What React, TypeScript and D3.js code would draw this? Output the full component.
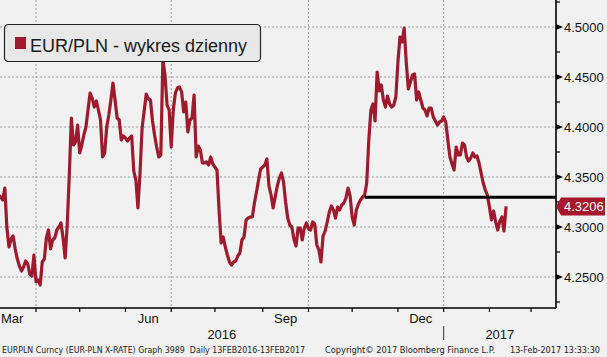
import React from "react";
import * as d3 from "d3";

const W = 607;
const H = 357;

const seriesName = "EUR/PLN - wykres dzienny";
const firstDay = new Date(2016, 1, 15);
const axisEndDay = new Date(2017, 3, 1);

// EUR/PLN daily closes, business days from 15 Feb 2016 to 13 Feb 2017
const values = [
  4.405, 4.412, 4.398, 4.390, 4.385, 4.372, 4.380, 4.368, 4.360, 4.355, 4.348, 4.352, 4.340, 4.338, 4.330, 4.325, 4.332,
  4.330, 4.327, 4.339, 4.299, 4.280, 4.288, 4.291, 4.278, 4.268, 4.261, 4.256, 4.260, 4.266, 4.263, 4.253, 4.251, 4.272,
  4.245, 4.247, 4.242, 4.265, 4.268, 4.289, 4.297, 4.278, 4.287, 4.289, 4.297, 4.300, 4.304, 4.289, 4.269, 4.302,
  4.352, 4.409, 4.382, 4.385, 4.402, 4.374, 4.382, 4.392, 4.400, 4.417, 4.434, 4.429, 4.420, 4.426, 4.417, 4.407,
  4.370, 4.374, 4.400, 4.412, 4.427, 4.444, 4.427, 4.409, 4.407, 4.387, 4.391, 4.389, 4.386, 4.389, 4.391,
  4.356, 4.347, 4.319, 4.354, 4.399, 4.416, 4.433, 4.428, 4.427, 4.406, 4.392, 4.380, 4.370,
  4.372, 4.467, 4.452, 4.422, 4.417, 4.380,
  4.417, 4.434, 4.439, 4.440, 4.435, 4.415, 4.425, 4.395, 4.407, 4.409, 4.432,
  4.370, 4.381, 4.377, 4.364, 4.364, 4.365, 4.362, 4.370, 4.363, 4.360, 4.357,
  4.317, 4.284, 4.290, 4.280, 4.272, 4.265, 4.262, 4.265, 4.266, 4.271, 4.274, 4.287, 4.290, 4.307, 4.309, 4.310, 4.310,
  4.324, 4.335, 4.347, 4.358, 4.360, 4.362, 4.368, 4.341, 4.332, 4.319, 4.330, 4.341, 4.349, 4.354, 4.345,
  4.325, 4.309, 4.302, 4.300, 4.288, 4.281, 4.299, 4.299, 4.287, 4.299, 4.304,
  4.298, 4.297, 4.305, 4.303, 4.282, 4.277, 4.265, 4.291, 4.296, 4.305, 4.315, 4.321, 4.317, 4.309, 4.320, 4.317, 4.322, 4.324, 4.329,
  4.339, 4.331, 4.310, 4.302, 4.317, 4.323, 4.327, 4.330, 4.332,
  4.344, 4.387, 4.417, 4.423, 4.406, 4.455, 4.436, 4.442, 4.427, 4.420, 4.431, 4.423, 4.420, 4.422, 4.430,
  4.465, 4.490, 4.485, 4.499, 4.465, 4.438, 4.445, 4.452, 4.453,
  4.427, 4.435, 4.427, 4.419, 4.417, 4.411, 4.419, 4.419, 4.410, 4.406, 4.402, 4.405, 4.406, 4.410, 4.405,
  4.387, 4.370, 4.363, 4.357, 4.380, 4.372, 4.372, 4.384, 4.382, 4.370, 4.366, 4.369, 4.374, 4.370, 4.371, 4.364,
  4.354, 4.344, 4.337, 4.332, 4.320, 4.307, 4.316, 4.305, 4.297, 4.306, 4.310, 4.296, 4.3206,
];

const yTicks = [4.25, 4.3, 4.35, 4.4, 4.45, 4.5];
const yMinorTicks = [4.225, 4.275, 4.325, 4.375, 4.425, 4.475, 4.525];
const monthNames = ["Jan", "Feb", "Mar", "Apr", "May", "Jun", "Jul", "Aug", "Sep", "Oct", "Nov", "Dec"];
const labeledMonths = ["Mar", "Jun", "Sep", "Dec"];
const gridMonths = ["Jan", "Apr", "Jul", "Oct"];
const levelValue = 4.3297;
const levelStartDate = new Date(2016, 10, 9);
const lastValueLabel = "4.3206";
const footerLeft = "EURPLN Curncy (EUR-PLN X-RATE) Graph 3989  Daily 13FEB2016-13FEB2017";
const footerMid = "Copyright\u00A9 2017 Bloomberg Finance L.P.";
const footerRight = "13-Feb-2017 13:33:30";

const tradingDays = d3.timeDay
  .range(firstDay, axisEndDay)
  .filter((d) => d.getDay() !== 0 && d.getDay() !== 6);

const PLOT_R = 556;
const PLOT_B = 308;

const x = d3.scaleLinear().domain([0, 284]).range([-34.7, PLOT_R]);
const y = d3.scaleLinear().domain([4.25, 4.5]).range([277, 27]);

const BG = "#f1f1f1";
const RED = "#9e1a2c";
const FONT = "'Liberation Sans', Arial, sans-serif";
const SMALL = "'DejaVu Sans', Verdana, sans-serif";

export default function App() {
  const line = d3
    .line<number>()
    .x((_, i) => x(i))
    .y((v) => y(v));

  // month boundaries = first trading day of each month
  const bounds: { i: number; m: number; yr: number }[] = [];
  tradingDays.forEach((d, i) => {
    if (i > 0 && d.getMonth() !== tradingDays[i - 1].getMonth()) {
      bounds.push({ i, m: d.getMonth(), yr: d.getFullYear() });
    }
  });

  const monthLabels: { name: string; cx: number }[] = [];
  for (let k = 0; k < bounds.length - 1; k++) {
    const name = monthNames[bounds[k].m];
    if (labeledMonths.includes(name)) {
      monthLabels.push({ name, cx: (x(bounds[k].i) + x(bounds[k + 1].i)) / 2 });
    }
  }
  const yearBound = bounds.find((b) => b.m === 0)!;
  const yearX = x(yearBound.i);

  const levelIdx = tradingDays.findIndex((d) => +d === +levelStartDate);
  const yLast = y(values[values.length - 1]);
  const yLevel = y(levelValue);

  return (
    <svg
      width={W}
      height={H}
      style={{ position: "absolute", left: 0, top: 0, background: BG }}
    >
      <defs>
        <clipPath id="plot">
          <rect x={0} y={0} width={PLOT_R} height={PLOT_B} />
        </clipPath>
      </defs>
      <rect x={0} y={0} width={W} height={H} fill={BG} />

      {/* grid */}
      {yTicks.map((t) => (
        <line key={"hg" + t} x1={0} x2={PLOT_R} y1={y(t)} y2={y(t)} stroke="#9c9c9c" strokeDasharray="2,2" strokeWidth={1} />
      ))}
      {bounds
        .filter((b) => gridMonths.includes(monthNames[b.m]) && x(b.i) > 0 && x(b.i) < PLOT_R)
        .map((b) => (
          <line key={"vg" + b.i} x1={x(b.i)} x2={x(b.i)} y1={0} y2={PLOT_B} stroke="#9c9c9c" strokeDasharray="2,2" strokeWidth={1} />
        ))}

      {/* series */}
      <g clipPath="url(#plot)">
        <path d={line(values) || ""} fill="none" stroke={RED} strokeWidth={3.2} strokeLinejoin="round" />
        <line x1={x(levelIdx)} x2={PLOT_R} y1={yLevel} y2={yLevel} stroke="#000" strokeWidth={3} />
      </g>

      {/* legend */}
      <rect x={4.5} y={24.5} width={256} height={37} rx={4} fill="#e8e8e8" stroke="#222" strokeWidth={1.2} />
      <rect x={15} y={37} width={11} height={12} fill={RED} />
      <text x={30} y={52} fontFamily={FONT} fontSize={18} fill="#1a1a1a">
        {seriesName}
      </text>

      {/* axes */}
      <line x1={PLOT_R} x2={PLOT_R} y1={0} y2={PLOT_B} stroke="#000" strokeWidth={1.6} />
      <line x1={0} x2={PLOT_R} y1={PLOT_B} y2={PLOT_B} stroke="#000" strokeWidth={1.6} />
      {yMinorTicks.map((t) => (
        <line key={"mt" + t} x1={PLOT_R} x2={PLOT_R + 4} y1={y(t)} y2={y(t)} stroke="#000" strokeWidth={1.2} />
      ))}
      {yTicks.map((t) => (
        <g key={"yt" + t}>
          <path d={`M${PLOT_R},${y(t) - 3}L${PLOT_R + 7},${y(t)}L${PLOT_R},${y(t) + 3}Z`} fill="#000" />
          <text x={PLOT_R + 8} y={y(t) + 5} fontFamily={FONT} fontSize={13} fill="#111">
            {d3.format(".4f")(t)}
          </text>
        </g>
      ))}
      {bounds
        .filter((b) => x(b.i) > 0 && x(b.i) < PLOT_R)
        .map((b) => (
          <line key={"xt" + b.i} x1={x(b.i)} x2={x(b.i)} y1={PLOT_B} y2={PLOT_B + 4} stroke="#000" strokeWidth={1.2} />
        ))}
      {monthLabels.map((m) => (
        <text key={"ml" + m.name} x={m.cx} y={323} textAnchor="middle" fontFamily={FONT} fontSize={13} fill="#111">
          {m.name}
        </text>
      ))}
      <text x={yearX / 2} y={338.5} textAnchor="middle" fontFamily={FONT} fontSize={13} fill="#111">
        {yearBound.yr - 1}
      </text>
      <text x={(yearX + PLOT_R) / 2} y={338.5} textAnchor="middle" fontFamily={FONT} fontSize={13} fill="#111">
        {yearBound.yr}
      </text>
      <line x1={yearX} x2={yearX} y1={326} y2={340} stroke="#333" strokeWidth={1} />

      {/* last value tag */}
      <path
        d={`M${PLOT_R},${yLast}L${PLOT_R + 5},${yLast - 9}L${W - 2},${yLast - 9}L${W - 2},${yLast + 9}L${PLOT_R + 5},${yLast + 9}Z`}
        fill="#a8182c"
      />
      <text x={PLOT_R + 8} y={yLast + 5} fontFamily={FONT} fontSize={13} fill="#fff">
        {lastValueLabel}
      </text>

      {/* footer */}
      <text x={2} y={353} fontFamily={SMALL} fontSize={8.5} fill="#222" style={{ whiteSpace: "pre" }} textLength={303} lengthAdjust="spacingAndGlyphs">
        {footerLeft}
      </text>
      <text x={325} y={353} fontFamily={SMALL} fontSize={8.5} fill="#222" textLength={170} lengthAdjust="spacingAndGlyphs">
        {footerMid}
      </text>
      <text x={510} y={353} fontFamily={SMALL} fontSize={8.5} fill="#222" textLength={90} lengthAdjust="spacingAndGlyphs">
        {footerRight}
      </text>
    </svg>
  );
}
